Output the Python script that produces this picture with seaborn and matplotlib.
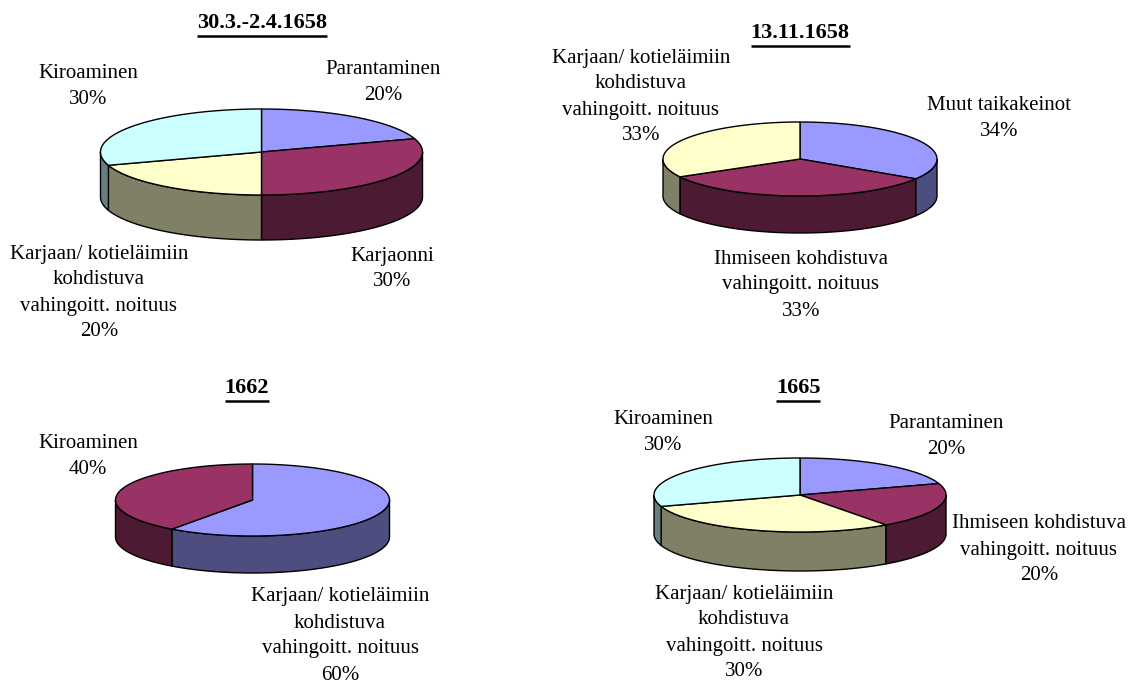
import numpy as np
import matplotlib
matplotlib.use("Agg")
import matplotlib.pyplot as plt
from matplotlib.patches import Polygon
import seaborn as sns

# data
titles = ["30.3.-2.4.1658", "13.11.1658", "1662", "1665"]

names_1 = ["Parantaminen", "Karjaonni",
           "Karjaan/ kotieläimiin\nkohdistuva\nvahingoitt. noituus", "Kiroaminen"]
values_1 = [20, 30, 20, 30]

names_2 = ["Muut taikakeinot", "Ihmiseen kohdistuva\nvahingoitt. noituus",
           "Karjaan/ kotieläimiin\nkohdistuva\nvahingoitt. noituus"]
values_2 = [34, 33, 33]

names_3 = ["Karjaan/ kotieläimiin\nkohdistuva\nvahingoitt. noituus", "Kiroaminen"]
values_3 = [60, 40]

names_4 = ["Parantaminen", "Ihmiseen kohdistuva\nvahingoitt. noituus",
           "Karjaan/ kotieläimiin\nkohdistuva\nvahingoitt. noituus", "Kiroaminen"]
values_4 = [20, 20, 30, 30]

# excel default 3d pie colours (top) and shaded sides
top_colors = ["#9999FF", "#993366", "#FFFFCC", "#CCFFFF"]
side_colors = ["#4D4D80", "#4D1A33", "#808066", "#668080"]

FS = 15


def draw_pie3d(ax, cx, cy, rx, ry, depth, values, names, label_xy):
    fracs = np.array(values, dtype=float) / sum(values)
    bounds = 90 - 360 * np.concatenate([[0], np.cumsum(fracs)])
    for i in range(len(values)):
        a_hi, a_lo = bounds[i], bounds[i + 1]
        # visible front wall
        lo, hi = max(a_lo, -180), min(a_hi, 0)
        if hi > lo:
            th = np.radians(np.linspace(lo, hi, 80))
            xs = cx + rx * np.cos(th)
            ys = cy - ry * np.sin(th)
            pts = np.concatenate([np.column_stack([xs, ys]),
                                  np.column_stack([xs, ys + depth])[::-1]])
            ax.add_patch(Polygon(pts, closed=True, facecolor=side_colors[i],
                                 edgecolor="black", linewidth=1.0, zorder=1))
        th = np.radians(np.linspace(a_hi, a_lo, 120))
        arc = np.column_stack([cx + rx * np.cos(th), cy - ry * np.sin(th)])
        pts = np.vstack([[cx, cy], arc])
        ax.add_patch(Polygon(pts, closed=True, facecolor=top_colors[i],
                             edgecolor="black", linewidth=1.0, zorder=2,
                             joinstyle="round"))
    for name, v, (lx, ly) in zip(names, values, label_xy):
        ax.text(lx, ly, f"{name}\n{v}%", ha="center", va="center",
                fontsize=FS, linespacing=1.5, color="black", zorder=3)


def draw_title(ax, x, y, text):
    return ax.text(x, y, text, ha="center", va="baseline", fontsize=16,
                   fontweight="bold", color="black", zorder=3)


sns.set_theme(style="white")
plt.rcParams['font.family'] = ['Liberation Serif', 'DejaVu Serif']

fig = plt.figure(figsize=(11.33, 6.87), dpi=100)
ax = fig.add_axes([0, 0, 1, 1])
ax.set_xlim(0, 1133)
ax.set_ylim(687, 0)
ax.axis("off")

draw_pie3d(ax, 261.5, 152, 161, 43, 45, values_1, names_1,
           [(383, 83), (392, 269), (99, 293), (88, 87)])
draw_pie3d(ax, 800, 159, 137, 37, 37, values_2, names_2,
           [(999, 118), (801, 285), (641, 97)])
draw_pie3d(ax, 252.5, 500, 137, 36, 37, values_3, names_3,
           [(340, 636), (88, 456)])
draw_pie3d(ax, 800, 495, 146, 37, 39, values_4, names_4,
           [(946, 437), (1039, 550), (744, 633), (663, 432)])

title_texts = [draw_title(ax, 262, 28, titles[0]),
               draw_title(ax, 800, 38, titles[1]),
               draw_title(ax, 247, 393, titles[2]),
               draw_title(ax, 798, 393, titles[3])]

# underline the titles
fig.canvas.draw()
renderer = fig.canvas.get_renderer()
inv = ax.transData.inverted()
for t in title_texts:
    bb = t.get_window_extent(renderer)
    (x0, y0), (x1, y1) = inv.transform([(bb.x0, bb.y0), (bb.x1, bb.y1)])
    ax.plot([x0, x1], [y0 + 3, y0 + 3], color="black", linewidth=1.8,
            solid_capstyle="butt", zorder=3)

fig.savefig("out.png", dpi=100)
